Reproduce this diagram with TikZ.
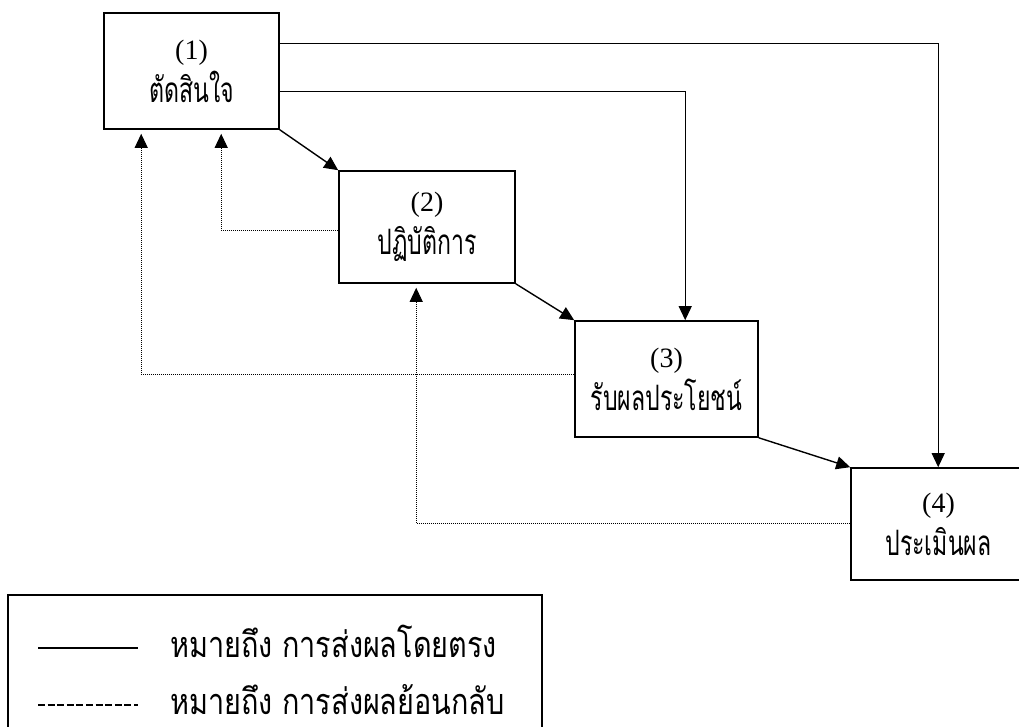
\documentclass[tikz,border=0pt]{standalone}
\usepackage{fontspec}
\setmainfont{Liberation Serif}
\newfontfamily\thaifont[Script=Thai,FakeStretch=0.66]{Loma}
\newfontfamily\thaileg[Script=Thai,FakeStretch=0.8]{Loma}
\usetikzlibrary{arrows.meta,calc}
\newcommand{\boxthai}[1]{{\thaifont\fontsize{35}{43}\selectfont #1}}
\begin{document}
\begin{tikzpicture}[x=1pt,y=-1pt,
  box/.style={draw,line width=1.6pt,fill=white,inner sep=0pt,align=center,
    font=\fontsize{28}{43}\selectfont},
  tip/.style={-{Triangle[length=14pt,width=13pt]}},
  direct/.style={tip,line width=0.9pt},
  directd/.style={tip,line width=1.4pt},
  fb/.style={tip,line width=0.9pt,dash pattern=on 1pt off 1pt,shorten >=4pt},
  leg/.style={font=\thaileg\fontsize{36}{36}\selectfont,anchor=base west,inner sep=0pt,
    text height=20pt,text depth=0pt}]
\useasboundingbox (0,0) rectangle (1019,726);
\fill[white] (0,0) rectangle (1019,726);
\node[box,minimum width=175pt,minimum height=116pt] (b1) at (191.5,71) {(1)\\\boxthai{ตัดสินใจ}};
\node[box,minimum width=176pt,minimum height=112pt] (b2) at (427,227) {(2)\\\boxthai{ปฏิบัติการ}};
\node[box,minimum width=183pt,minimum height=116pt] (b3) at (666.5,379) {(3)\\\boxthai{รับผลประโยชน์}};
\node[box,minimum width=175pt,minimum height=112pt] (b4) at (938.5,524) {(4)\\\boxthai{ประเมินผล}};
% direct effects
\draw[direct] ($(b1.north east)+(0,31)$) -| ($(b4.north west)+(88,0)$);
\draw[direct] ($(b1.north east)+(0,79)$) -| ($(b3.north west)+(111,0)$);
\draw[directd] (b1.south east) -- (b2.north west);
\draw[directd] (b2.south east) -- (b3.north west);
\draw[directd] (b3.south east) -- (b4.north west);
% feedback
\draw[fb] ($(b2.north west)+(0,60)$) -| ($(b1.south west)+(118,0)$);
\draw[fb] ($(b3.north west)+(0,54)$) -| ($(b1.south west)+(38,0)$);
\draw[fb] ($(b4.north west)+(0,56)$) -| ($(b2.south west)+(78,0)$);
% legend
\node[draw,line width=1.6pt,minimum width=534pt,minimum height=150pt,inner sep=0pt] (lg) at (275,670) {};
\coordinate (s1) at (38,648);
\coordinate (s2) at (138,648);
\coordinate (d1) at (38,705);
\coordinate (d2) at (138,705);
\draw[line width=2.2pt] (s1) -- (s2);
\draw[line width=2.8pt,dash pattern=on 7pt off 2.6pt] (d1) -- (d2);
\node[leg] (t1) at (170,657) {หมายถึง การส่งผลโดยตรง};
\node[leg] (t2) at (170,714) {หมายถึง การส่งผลย้อนกลับ};
\end{tikzpicture}
\end{document}
